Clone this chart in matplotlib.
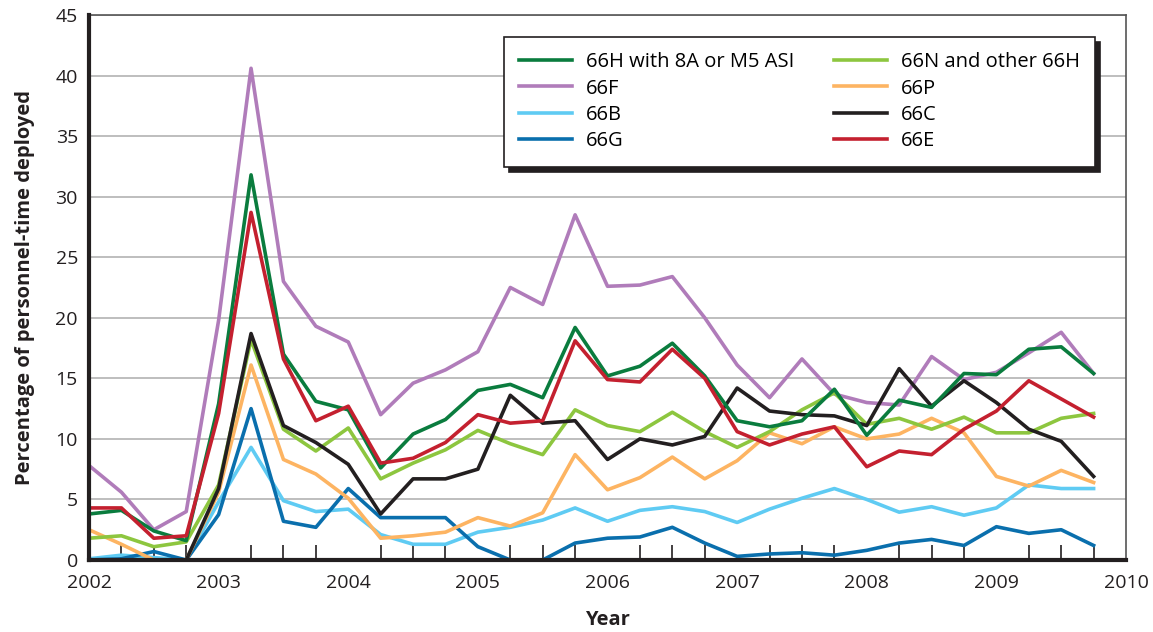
import numpy as np
import matplotlib.pyplot as plt
from matplotlib.ticker import MultipleLocator

plt.rcParams['font.family'] = ['Open Sans', 'DejaVu Sans']

# Quarterly observations, 2002 Q1 through 2009 Q4
years = 2002 + np.arange(32) * 0.25

h_8a_m5 = [3.8, 4.1, 2.4, 1.6, 12.9, 31.8, 17.0, 13.1, 12.4, 7.6,
           10.4, 11.6, 14.0, 14.5, 13.4, 19.2, 15.2, 16.0, 17.9, 15.2,
           11.5, 11.0, 11.5, 14.1, 10.3, 13.2, 12.6, 15.4, 15.3, 17.4, 17.6, 15.4]
f_66 = [7.8, 5.6, 2.5, 4.0, 19.8, 40.6, 23.0, 19.3, 18.0, 12.0,
        14.6, 15.7, 17.2, 22.5, 21.1, 28.5, 22.6, 22.7, 23.4, 20.0,
        16.1, 13.4, 16.6, 13.7, 13.0, 12.8, 16.8, 14.9, 15.5, 17.1, 18.8, 15.4]
b_66 = [0.1, 0.4, 0.2, 0.0, 4.8, 9.3, 4.9, 4.0, 4.2, 2.1,
        1.3, 1.3, 2.3, 2.7, 3.3, 4.3, 3.2, 4.1, 4.4, 4.0,
        3.1, 4.2, 5.1, 5.9, 5.0, 3.95, 4.4, 3.7, 4.3, 6.2, 5.9, 5.9]
g_66 = [0.0, 0.1, 0.7, 0.0, 3.75, 12.5, 3.2, 2.7, 5.9, 3.5,
        3.5, 3.5, 1.1, 0.0, 0.0, 1.4, 1.8, 1.9, 2.7, 1.4,
        0.3, 0.5, 0.6, 0.4, 0.8, 1.4, 1.7, 1.2, 2.75, 2.2, 2.5, 1.2]
n_other_h = [1.8, 2.0, 1.1, 1.5, 6.2, 18.2, 10.8, 9.0, 10.9, 6.7,
             8.0, 9.1, 10.7, 9.6, 8.7, 12.4, 11.1, 10.6, 12.2, 10.6,
             9.3, 10.6, 12.4, 13.8, 11.2, 11.7, 10.8, 11.8, 10.5, 10.5, 11.7, 12.1]
p_66 = [2.5, 1.3, 0.0, 0.0, 5.6, 16.1, 8.3, 7.1, 5.1, 1.8,
        2.0, 2.3, 3.5, 2.8, 3.9, 8.7, 5.8, 6.8, 8.5, 6.7,
        8.2, 10.5, 9.6, 11.0, 10.0, 10.4, 11.7, 10.5, 6.9, 6.1, 7.4, 6.4]
c_66 = [0.0, 0.0, 0.0, 0.0, 5.9, 18.7, 11.1, 9.7, 7.9, 3.8,
        6.7, 6.7, 7.5, 13.6, 11.3, 11.5, 8.3, 10.0, 9.5, 10.2,
        14.2, 12.3, 12.0, 11.9, 11.1, 15.8, 12.7, 14.8, 13.0, 10.8, 9.8, 6.9]
e_66 = [4.3, 4.3, 1.8, 2.0, 12.1, 28.7, 16.6, 11.5, 12.7, 8.0,
        8.4, 9.7, 12.0, 11.3, 11.5, 18.1, 14.9, 14.7, 17.4, 15.0,
        10.6, 9.5, 10.4, 11.0, 7.7, 9.0, 8.7, 10.8, 12.3, 14.8, 13.3, 11.8]

fig = plt.figure(figsize=(11.53, 6.32), dpi=100)
ax = fig.add_axes([0.0772, 0.1139, 0.8994, 0.8624])

ax.set_xlim(2002, 2010)
ax.set_ylim(0, 45)
ax.yaxis.set_major_locator(MultipleLocator(5))
ax.xaxis.set_major_locator(MultipleLocator(1))
ax.xaxis.set_minor_locator(MultipleLocator(0.25))
ax.grid(axis='y', color='#b9b9b9', linewidth=1.3, zorder=0)
ax.set_axisbelow(True)

# Drawing order: earlier entries sit underneath later ones
lw = 2.6
ax.plot(years, f_66, color='#b07cba', lw=lw, label='66F', zorder=3)
ax.plot(years, b_66, color='#5fcbf3', lw=lw, label='66B', zorder=3)
ax.plot(years, g_66, color='#0a6fad', lw=lw, label='66G', zorder=3)
ax.plot(years, p_66, color='#fdb462', lw=lw, label='66P', zorder=3)
ax.plot(years, n_other_h, color='#8dc63f', lw=lw, label='66N and other 66H', zorder=3)
ax.plot(years, c_66, color='#231f20', lw=lw, label='66C', zorder=3)
ax.plot(years, h_8a_m5, color='#0a7c3e', lw=lw, label='66H with 8A or M5 ASI', zorder=3)
ax.plot(years, e_66, color='#c4202f', lw=lw, label='66E', zorder=3)

for side in ['left', 'bottom']:
    ax.spines[side].set_color('#231f20')
    ax.spines[side].set_linewidth(3)
    ax.spines[side].set_zorder(5)
for side in ['top', 'right']:
    ax.spines[side].set_color('#555555')
    ax.spines[side].set_linewidth(1.2)

ax.tick_params(axis='y', length=0, labelsize=14, pad=8, colors='#231f20')
ax.tick_params(axis='x', which='both', direction='in', length=11, width=1.2,
               color='#231f20', labelsize=14, pad=10, labelcolor='#231f20')
ax.tick_params(axis='x', which='major', length=0)

ax.set_xlabel('Year', fontsize=14.5, fontweight='bold', labelpad=13, color='#231f20')
ax.set_ylabel('Percentage of personnel-time deployed', fontsize=14.5,
              fontweight='bold', labelpad=15, color='#231f20')

handles, labels = ax.get_legend_handles_labels()
order = ['66H with 8A or M5 ASI', '66F', '66B', '66G',
         '66N and other 66H', '66P', '66C', '66E']
hmap = dict(zip(labels, handles))
leg = ax.legend([hmap[k] for k in order], order, ncol=2, loc='upper right',
                bbox_to_anchor=(0.970, 0.9596), borderaxespad=0, fontsize=14.5,
                frameon=True, fancybox=False, handlelength=2.6, handletextpad=0.7,
                columnspacing=2.0, labelspacing=0.32, borderpad=0.75,
                shadow={'color': '#231f20', 'alpha': 1, 'ox': 3.6, 'oy': -3.6})
leg.get_frame().set_edgecolor('#231f20')
leg.get_frame().set_linewidth(1.2)
leg.set_zorder(10)

fig.savefig('out.png', dpi=100)
